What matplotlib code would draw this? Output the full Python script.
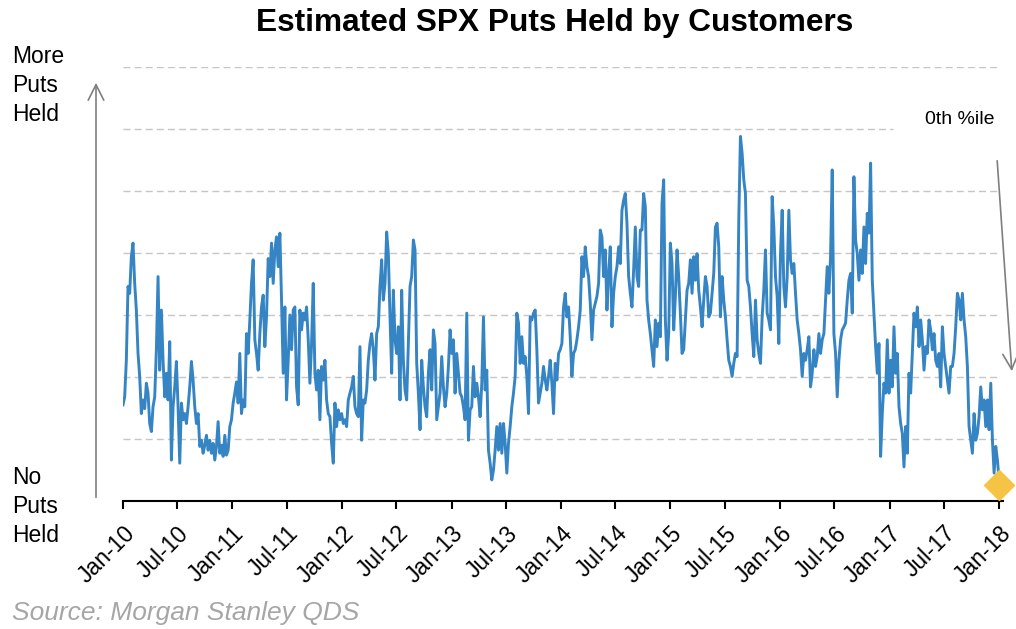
import numpy as np
import pandas as pd
import matplotlib
matplotlib.use("Agg")
import matplotlib.pyplot as plt
import matplotlib.dates as mdates
from matplotlib.patches import FancyArrowPatch

plt.rcParams['font.family'] = ['Liberation Sans', 'DejaVu Sans']

# ---- data (relative put-holding level, gridline units) ----
seg_2010_2011 = [1.55, 1.68, 2.27, 3.46, 3.35, 3.94, 4.16, 3.51, 3.08, 2.38, 2.01, 1.41, 1.63, 1.49, 1.90,
                 1.74, 1.25, 1.12, 1.52, 1.68, 2.44, 3.62, 2.11, 3.08, 2.27, 1.68, 2.06, 1.63, 2.57, 0.66,
                 1.52, 1.84, 2.25, 1.52, 0.61, 1.58, 1.31, 1.41, 1.25, 1.52, 1.84, 2.25, 1.95, 1.52, 1.25,
                 1.41, 0.88, 0.98, 0.77, 0.90, 1.06, 0.82, 0.98, 0.77, 0.93, 0.66, 0.88, 1.28, 0.77, 0.90,
                 0.72, 1.06, 0.74, 0.82, 1.20, 1.31, 1.58, 1.74, 1.92, 1.58, 2.38, 1.41, 1.63, 1.52, 2.70,
                 2.38, 2.92, 3.51, 3.89, 2.60, 2.38, 2.11, 2.70, 3.13, 3.32, 2.49, 2.97, 3.91, 3.62, 4.16,
                 3.51, 4.05, 4.26, 3.78, 4.32, 3.24, 2.06, 3.13, 1.63, 2.27, 3.00]
seg_2011_2013 = [2.44, 3.08, 3.13, 1.84, 1.55, 3.08, 2.76, 3.03, 2.92, 3.13, 2.60, 1.90, 2.54, 3.51, 2.06,
                 1.79, 2.11, 1.31, 2.17, 1.95, 2.27, 1.63, 1.41, 1.36, 0.93, 0.61, 1.58, 1.20, 1.47, 1.31,
                 1.41, 1.25, 1.31, 1.20, 1.63, 1.74, 1.84, 2.01, 1.52, 1.41, 1.36, 2.49, 0.98, 1.63, 1.58,
                 1.79, 2.27, 2.54, 2.70, 2.44, 1.95, 2.70, 2.81, 3.46, 3.89, 3.24, 3.51, 4.34, 3.99, 2.97,
                 2.06, 3.40, 2.60, 2.38, 2.81, 1.63, 3.40, 2.27, 1.79, 1.63, 2.54, 3.46, 3.62, 4.21, 4.05,
                 2.22, 1.74, 1.15, 2.27, 1.84, 1.52, 1.36, 2.06, 2.44, 1.79, 2.76, 2.54, 1.31, 1.52, 1.74,
                 2.33, 1.84, 1.52, 1.74, 2.17, 2.76, 2.38, 2.60, 1.74, 2.38, 2.06, 1.74, 1.68, 1.52, 1.31,
                 3.03, 0.98]
seg_2013_2014 = [1.47, 1.52, 2.17, 1.68, 1.90, 1.68, 1.36, 1.90, 2.97, 1.79, 2.11, 0.82, 0.61, 0.34, 0.50,
                 0.82, 1.20, 0.82, 1.25, 0.77, 1.25, 0.93, 0.45, 0.93, 1.20, 1.52, 1.74, 2.01, 3.03, 2.87,
                 2.22, 2.65, 2.22, 2.33, 2.01, 1.41, 2.97, 2.92, 3.03, 3.08, 2.44, 1.58, 1.74, 1.90, 2.17,
                 1.95, 1.79, 2.01, 2.27, 1.90, 1.41, 2.22, 1.95, 2.38, 2.44, 2.54, 3.13, 3.35, 2.97, 3.13,
                 2.65, 2.01, 2.38, 2.44, 2.60, 2.81, 3.08, 3.94, 3.62, 4.10, 3.78, 3.62, 3.19, 2.60, 3.08,
                 3.19, 3.30, 3.51, 4.37, 4.26, 3.62, 4.05, 3.08, 3.67, 4.10, 2.81, 3.35, 3.62, 3.78, 4.10,
                 3.83, 4.69, 4.85, 4.96, 4.48, 3.62, 3.35, 3.13, 3.73, 4.42, 3.62, 3.46, 4.37]
seg_2014_2016 = [4.37, 4.96, 4.75, 3.24, 2.92, 2.70, 2.44, 2.17, 2.92, 2.49, 2.87, 2.65, 4.80, 5.18, 2.92,
                 2.27, 2.70, 4.16, 3.83, 2.76, 3.30, 4.05, 3.62, 3.03, 2.38, 2.44, 2.92, 3.40, 3.51, 3.89,
                 3.35, 3.94, 3.56, 3.99, 3.40, 3.13, 2.81, 3.24, 3.62, 3.46, 2.97, 3.03, 3.35, 3.67, 4.42,
                 4.48, 4.10, 2.97, 3.62, 3.24, 2.97, 2.60, 2.27, 2.17, 2.01, 2.22, 2.38, 2.33, 4.53, 5.88,
                 5.61, 5.18, 4.96, 3.56, 3.46, 3.13, 2.70, 2.33, 3.24, 2.60, 2.38, 2.22, 2.97, 3.40, 4.05,
                 3.03, 2.92, 2.76, 4.91, 4.42, 3.62, 3.30, 2.54, 3.99, 4.69, 3.46, 3.13, 3.62, 4.69, 3.89,
                 3.67, 3.83, 3.35, 2.92, 2.70, 2.44, 2.01, 2.38, 2.27, 2.44, 2.65, 1.84, 2.06]
seg_2016_2018 = [2.44, 2.17, 2.33, 2.70, 2.38, 2.60, 2.70, 3.24, 3.78, 3.35, 3.94, 5.34, 2.70, 2.38, 1.68,
                 2.27, 2.60, 2.76, 2.81, 2.87, 3.24, 3.56, 3.67, 3.03, 5.23, 4.21, 3.99, 3.56, 4.05, 3.67,
                 4.42, 3.83, 4.64, 4.32, 5.45, 3.56, 3.03, 2.49, 2.06, 2.54, 0.72, 1.41, 1.90, 1.74, 2.60,
                 1.74, 2.27, 1.84, 2.81, 2.06, 2.38, 1.52, 1.25, 1.09, 0.55, 1.20, 0.77, 2.06, 1.74, 2.38,
                 3.03, 2.81, 3.13, 2.49, 2.92, 2.60, 2.11, 2.49, 2.38, 2.92, 2.76, 2.44, 2.70, 2.27, 2.17,
                 2.38, 1.84, 2.81, 2.38, 2.17, 1.95, 1.74, 2.17, 2.17, 2.38, 2.81, 3.35, 3.24, 2.92, 3.35,
                 2.92, 2.65, 2.17, 1.20, 0.98, 0.77, 1.41, 0.98, 1.09, 1.36, 1.84, 1.47, 1.63, 1.20, 1.63,
                 1.15, 1.90, 0.98, 0.45, 0.88, 0.66, 0.34]
latest_value = [0.26]

values = np.array(seg_2010_2011 + seg_2011_2013 + seg_2013_2014 + seg_2014_2016 + seg_2016_2018)
start, end = pd.Timestamp("2010-01-01"), pd.Timestamp("2018-01-01")
dates = pd.to_datetime(np.linspace(start.value, end.value, len(values)))

title = "Estimated SPX Puts Held by Customers"
source = "Source: Morgan Stanley QDS"

W, H = 1016, 629
fig = plt.figure(figsize=(W / 100, H / 100), dpi=100)
ax_left, ax_right, ax_bottom, ax_top = 123, 1003, 501, 67
ax = fig.add_axes([ax_left / W, 1 - ax_bottom / H, (ax_right - ax_left) / W, (ax_bottom - ax_top) / H])

ax.set_ylim(0, 7)
ax.set_xlim(start, pd.Timestamp("2018-01-14"))

grid_color = '#C6C6C6'
for lvl in range(1, 8):
    xmax = (893 - ax_left) / (ax_right - ax_left) if lvl == 6 else 0.995
    ax.axhline(lvl, xmin=0, xmax=xmax, color=grid_color, lw=1.0, ls=(0, (5, 3)), zorder=0)

ax.plot(dates, values, color='#3584C3', lw=2.1, zorder=3, solid_joinstyle='round')
ax.plot([dates[-1]], latest_value, marker='D', ms=15, color='#F5C445', mec='#F5C445',
        zorder=4, clip_on=False, ls='none')

for s in ['left', 'right', 'top']:
    ax.spines[s].set_visible(False)
ax.spines['bottom'].set_linewidth(1.5)
ax.set_yticks([])
ax.xaxis.set_major_locator(mdates.MonthLocator(bymonth=[1, 7]))
ax.xaxis.set_major_formatter(mdates.DateFormatter('%b-%y'))
ax.tick_params(axis='x', direction='out', length=6, width=1.5, labelsize=16.5, pad=9)
for lab in ax.get_xticklabels():
    lab.set_rotation(45)
    lab.set_ha('right')
    lab.set_rotation_mode('anchor')

def fx(px):
    return px / W

def fy(py):
    return 1 - py / H

fig.text(fx(555), fy(23), title, fontsize=22.8, fontweight='bold', ha='center', va='center')
fig.text(fx(12), fy(45), "More\nPuts\nHeld", fontsize=16.5, ha='left', va='top', linespacing=1.32)
fig.text(fx(12), fy(466), "No\nPuts\nHeld", fontsize=16.5, ha='left', va='top', linespacing=1.32)
fig.text(fx(12), fy(613), source, fontsize=19, style='italic', color='#A6A6A6', ha='left', va='center')
fig.text(fx(960), fy(120), "0th %ile", fontsize=14, ha='center', va='center')

arrow_col = '#7F7F7F'
fig.add_artist(FancyArrowPatch((fx(96), fy(500)), (fx(96), fy(80)), transform=fig.transFigure,
                               arrowstyle='->', mutation_scale=28, color=arrow_col, lw=1.2))
fig.add_artist(FancyArrowPatch((fx(997), fy(158)), (fx(1012), fy(374)), transform=fig.transFigure,
                               arrowstyle='->', mutation_scale=28, color=arrow_col, lw=1.2))

fig.savefig("out.png", dpi=100)
